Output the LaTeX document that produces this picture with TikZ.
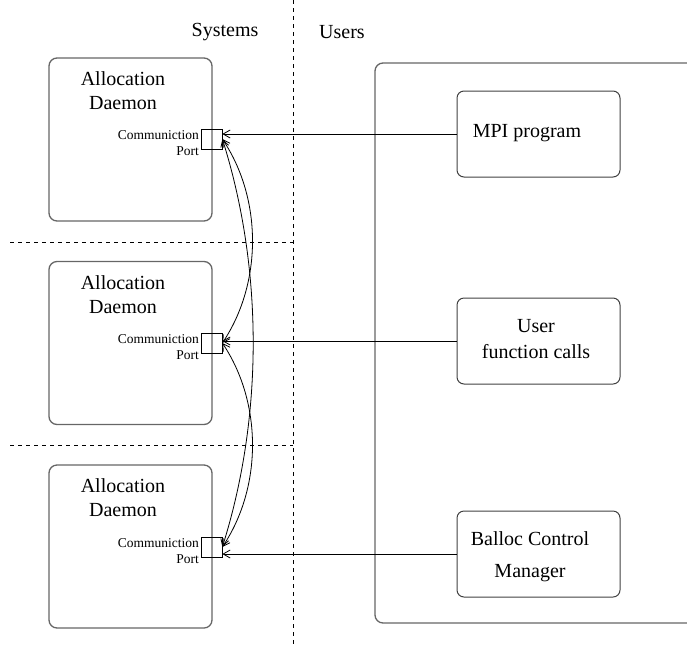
\documentclass[tikz,border=0pt]{standalone}
\usepackage{fontspec}
\setmainfont{Liberation Serif}
\usetikzlibrary{arrows.meta}

\begin{document}
\begin{tikzpicture}[x=1pt,y=-1pt,
  frame/.style={draw=black!60, line width=1.3pt, rounded corners=8pt},
  daemon/.style={frame, minimum width=163pt, minimum height=163pt, inner sep=0pt},
  userbox/.style={draw=black!75, line width=1pt, rounded corners=7pt,
                  minimum width=163pt, minimum height=86pt, inner sep=0pt},
  portbox/.style={draw, line width=0.7pt, minimum width=21pt, minimum height=20pt, inner sep=0pt},
  portlabel/.style={font=\fontsize{13.5}{16}\selectfont, align=right, anchor=east, inner sep=0pt},
  bigtext/.style={font=\fontsize{20}{24}\selectfont, align=center, inner sep=0pt},
  sep/.style={dash pattern=on 4pt off 4pt, line width=0.8pt},
  barb/.tip={Straight Barb[length=7pt,width=8pt]},
  link/.style={line width=0.8pt, barb-barb},
  feed/.style={line width=0.8pt, -barb},
]
\useasboundingbox (0,0) rectangle (687,646);

% separators between the two sides and between the systems
\draw[sep] (293,0) -- (293,646);
\draw[sep] (10,242) -- (293,242);
\draw[sep] (10,445) -- (293,445);

\node[bigtext] (sys) at (225,32) {Systems};
\node[bigtext] (usr) at (342,32) {Users};

% allocation daemons
\node[daemon] (d1) at (130.5,139.5) {};
\node[daemon] (d2) at (130.5,343) {};
\node[daemon] (d3) at (130.5,546.5) {};
\node[bigtext] (t1) at (123,91) {Allocation\\Daemon};
\node[bigtext] (t2) at (123,295) {Allocation\\Daemon};
\node[bigtext] (t3) at (123,498) {Allocation\\Daemon};

% communication ports on the daemons' right edges
\node[portbox] (p1) at (211.5,139) {};
\node[portbox] (p2) at (211.5,343) {};
\node[portbox] (p3) at (211.5,547) {};
\node[portlabel] (l1) at (199,143) {Communiction\\Port};
\node[portlabel] (l2) at (199,347) {Communiction\\Port};
\node[portlabel] (l3) at (199,551) {Communiction\\Port};

% user side
\draw[frame] (687,63) -- (375,63) -- (375,623) -- (687,623);
\node[userbox] (mpi) at (538.5,134) {};
\node[userbox] (ufc) at (538.5,341) {};
\node[userbox] (bcm) at (538.5,554) {};
\node[bigtext] (tm) at (527,133) {MPI program};
\node[bigtext, font=\fontsize{20}{26}\selectfont] (tu) at (536,339) {User\\function calls};
\node[bigtext, font=\fontsize{20}{32}\selectfont] (tb) at (530,557) {Balloc Control\\Manager};

% requests from the users to the ports
\draw[feed] (mpi.west) -- (mpi.west -| p1.east);
\draw[feed] (ufc.west) -- (ufc.west -| p2.east);
\draw[feed] (bcm.west) -- (bcm.west -| p3.east);

% links between the daemons' ports
\draw[link] (p1.east) .. controls +(40,60) and +(40,-60) .. (p2.east);
\draw[link] (p2.east) .. controls +(40,60) and +(40,-60) .. (p3.east);
\draw[link] (p1.east) .. controls +(41,130) and +(41,-130) .. (p3.east);
\end{tikzpicture}
\end{document}
